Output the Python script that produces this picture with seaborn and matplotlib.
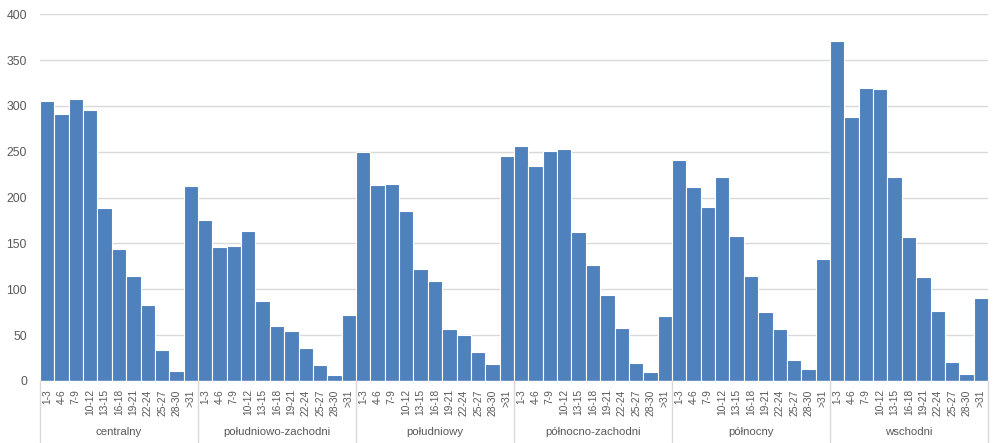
import matplotlib
matplotlib.use("Agg")
import matplotlib.pyplot as plt
import matplotlib.transforms as mtransforms
import seaborn as sns
import pandas as pd

groups = ["centralny", "południowo-zachodni", "południowy",
          "północno-zachodni", "północny", "wschodni"]
bins = ["1-3", "4-6", "7-9", "10-12", "13-15", "16-18", "19-21",
        "22-24", "25-27", "28-30", ">31"]

centralny = [305, 291, 308, 296, 189, 144, 114, 83, 34, 11, 213]
poludniowo_zachodni = [176, 146, 147, 164, 87, 60, 54, 36, 17, 7, 72]
poludniowy = [250, 214, 215, 185, 122, 109, 57, 50, 32, 18, 245]
polnocno_zachodni = [256, 234, 251, 253, 162, 126, 94, 58, 20, 10, 71]
polnocny = [241, 212, 190, 222, 158, 115, 75, 57, 23, 13, 133]
wschodni = [371, 288, 319, 318, 222, 157, 113, 76, 21, 8, 90]

series = [centralny, poludniowo_zachodni, poludniowy,
          polnocno_zachodni, polnocny, wschodni]

rows = []
for g, vals in zip(groups, series):
    for b, v in zip(bins, vals):
        rows.append({"key": f"{g}|{b}", "group": g, "bin": b, "value": v})
df = pd.DataFrame(rows)
order = list(df["key"])

sns.set_theme(style="white")
plt.rcParams["font.family"] = ["Liberation Sans", "DejaVu Sans"]

text_color = "#595959"
grid_color = "#d9d9d9"

fig = plt.figure(figsize=(10, 4.43), dpi=100)
ax = fig.add_axes([0.04, 0.14, 0.948, 0.828])

sns.barplot(data=df, x="key", y="value", order=order, color="#4F81BD",
            saturation=1, width=1.0, edgecolor="white", linewidth=0.8,
            ax=ax, zorder=3)

ax.set_xlim(-0.5, len(order) - 0.5)
ax.set_ylim(0, 400)
ax.set_yticks(range(0, 401, 50))
ax.yaxis.grid(True, color=grid_color, linewidth=1.0, zorder=0)
ax.set_axisbelow(True)
for s in ax.spines.values():
    s.set_visible(False)
ax.axhline(0, color=grid_color, linewidth=1.0, zorder=4)

ax.set_xlabel("")
ax.set_ylabel("")
ax.set_xticks(range(len(order)))
ax.set_xticklabels(list(df["bin"]), rotation=90, fontsize=7.4,
                   color=text_color)
ax.tick_params(axis="x", length=0, pad=6)
ax.tick_params(axis="y", length=0, pad=9.4, labelsize=8.8,
               labelcolor=text_color)

trans = mtransforms.blended_transform_factory(ax.transData, ax.transAxes)
n = len(bins)
for i in range(len(groups) + 1):
    x = i * n - 0.5
    ax.plot([x, x], [0, -0.165], transform=trans, color=grid_color,
            linewidth=1.0, clip_on=False)
for i, g in enumerate(groups):
    xc = i * n + (n - 1) / 2
    ax.text(xc, -0.14, g, transform=trans, ha="center", va="center",
            fontsize=8.2, color=text_color)

fig.savefig("out.png", dpi=100)
